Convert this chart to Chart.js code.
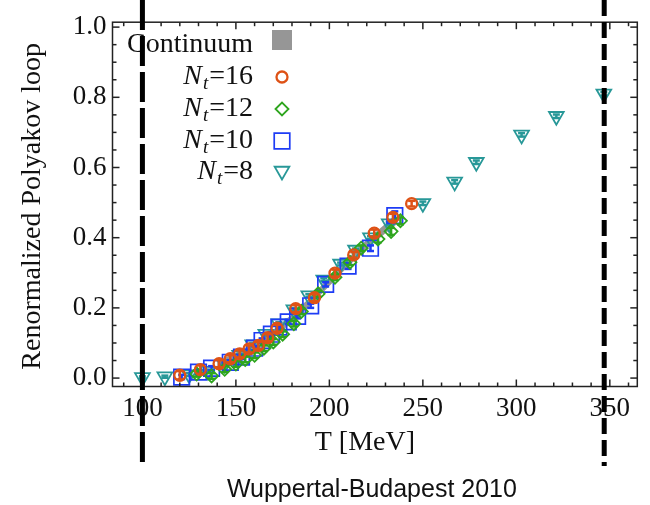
<!DOCTYPE html>
<html>
<head>
<meta charset="utf-8">
<script src="https://cdn.jsdelivr.net/npm/chart.js@4"></script>
<style>
  html, body { margin: 0; padding: 0; background: #fff; }
  #wrap { width: 650px; height: 505px; }
</style>
</head>
<body>
<div id="wrap"><canvas id="polyakovChart"></canvas></div>
<script>
// values: T in MeV, renormalized Polyakov loop
const nt16T = [120, 131, 141, 147, 152, 157, 162, 167, 172, 182, 192, 203, 213, 224, 234, 244];
const nt16L = [0.008, 0.024, 0.041, 0.055, 0.069, 0.083, 0.093, 0.115, 0.142, 0.198, 0.229, 0.299, 0.351, 0.413, 0.458, 0.497];
const nt16Err = [0.012, 0.012, 0.010, 0.010, 0.010, 0.010, 0.010, 0.010, 0.010, 0.010, 0.010, 0.010, 0.008, 0.010, 0.010, 0.008];

const nt12T = [129, 137, 144, 150, 155, 160, 165, 170, 175, 181, 185, 194, 203, 211, 217, 226, 233, 238];
const nt12L = [0.012, 0.006, 0.025, 0.040, 0.053, 0.065, 0.085, 0.103, 0.125, 0.155, 0.190, 0.240, 0.287, 0.330, 0.370, 0.396, 0.418, 0.448];
const nt12Err = [0.008, 0.008, 0.008, 0.008, 0.008, 0.008, 0.008, 0.008, 0.008, 0.008, 0.008, 0.008, 0.008, 0.008, 0.008, 0.010, 0.010, 0.010];

const nt10T = [121, 130, 137, 147, 153, 160, 164, 169, 173, 178, 183, 190, 198, 210, 222, 235];
const nt10L = [0.003, 0.017, 0.028, 0.045, 0.060, 0.085, 0.107, 0.125, 0.145, 0.160, 0.176, 0.206, 0.267, 0.319, 0.370, 0.463];
const nt10Err = [0.006, 0.006, 0.006, 0.006, 0.006, 0.006, 0.006, 0.006, 0.006, 0.006, 0.006, 0.006, 0.006, 0.008, 0.008, 0.012];

const nt8T = [100, 112, 125, 135, 144, 152, 159, 166, 173, 181, 189, 197, 206, 214, 222, 232, 250, 267, 278.6, 302.8, 321.4, 346.8];
const nt8L = [0.002, 0.004, 0.010, 0.020, 0.040, 0.065, 0.095, 0.125, 0.155, 0.195, 0.235, 0.280, 0.325, 0.365, 0.400, 0.440, 0.498, 0.559, 0.615, 0.693, 0.746, 0.810];
const nt8Err = [0.003, 0.003, 0.004, 0.004, 0.004, 0.004, 0.004, 0.004, 0.004, 0.004, 0.004, 0.004, 0.004, 0.004, 0.004, 0.004, 0.005, 0.005, 0.005, 0.005, 0.005, 0.005];

const contT = [140, 150, 160, 170, 180, 190, 200, 210, 220, 230, 236];
const contLow = [0.028, 0.052, 0.080, 0.115, 0.158, 0.208, 0.262, 0.318, 0.368, 0.413, 0.438];
const contHigh = [0.048, 0.072, 0.102, 0.138, 0.182, 0.232, 0.288, 0.342, 0.394, 0.440, 0.466];

const xTickLabels = [100, 150, 200, 250, 300, 350];
const yTickLabels = [0.0, 0.2, 0.4, 0.6, 0.8, 1.0];
const markerLines = [100, 347];

const legendNames = ['Continuum', '16', '12', '10', '8'];

const ORANGE = 'rgb(222, 82, 22)';
const GREEN = 'rgb(46, 165, 30)';
const BLUE = 'rgb(30, 60, 245)';
const TEAL = 'rgb(40, 152, 152)';
const GREY = 'rgb(150, 150, 150)';

function pts(xs, ys) {
    return xs.map((x, i) => ({ x: x, y: ys[i] }));
}

const serif = '"Liberation Serif", "Times New Roman", serif';

const datasets = [
    { label: 'Nt=16', data: pts(nt16T, nt16L), errors: nt16Err, pointStyle: 'circle', pointRadius: 5.5,
      borderColor: ORANGE, backgroundColor: 'rgba(0,0,0,0)', pointBorderWidth: 2.3, showLine: false },
    { label: 'Nt=12', data: pts(nt12T, nt12L), errors: nt12Err, pointStyle: 'rectRot', pointRadius: 6.5,
      borderColor: GREEN, backgroundColor: 'rgba(0,0,0,0)', pointBorderWidth: 1.8, showLine: false },
    { label: 'Nt=10', data: pts(nt10T, nt10L), errors: nt10Err, pointStyle: 'rect', pointRadius: 11,
      borderColor: BLUE, backgroundColor: 'rgba(0,0,0,0)', pointBorderWidth: 1.7, showLine: false },
    { label: 'Nt=8', data: pts(nt8T, nt8L), errors: nt8Err, pointStyle: 'triangle', pointRotation: 180, pointRadius: 8.5,
      borderColor: TEAL, backgroundColor: 'rgba(0,0,0,0)', pointBorderWidth: 1.8, showLine: false },
    { label: 'cont-low', data: pts(contT, contLow), showLine: true, pointRadius: 0, borderWidth: 0,
      borderColor: GREY, backgroundColor: GREY, fill: false },
    { label: 'cont-high', data: pts(contT, contHigh), showLine: true, pointRadius: 0, borderWidth: 0,
      borderColor: GREY, backgroundColor: GREY, fill: '-1' }
];

function line(ctx, x1, y1, x2, y2) {
    ctx.beginPath();
    ctx.moveTo(x1, y1);
    ctx.lineTo(x2, y2);
    ctx.stroke();
}

// error bars, drawn right after each dataset's markers
const errorBars = {
    id: 'errorBars',
    afterDatasetDraw(chart, args) {
        const ds = chart.data.datasets[args.index];
        if (!ds.errors) return;
        const ctx = chart.ctx;
        const y = chart.scales.y;
        ctx.save();
        ctx.strokeStyle = ds.borderColor;
        ctx.lineWidth = 2.5;
        args.meta.data.forEach((pt, i) => {
            const v = ds.data[i].y;
            const e = ds.errors[i];
            const top = y.getPixelForValue(v + e);
            const bot = y.getPixelForValue(v - e);
            line(ctx, pt.x, top, pt.x, bot);
            line(ctx, pt.x - 3.5, top, pt.x + 3.5, top);
            line(ctx, pt.x - 3.5, bot, pt.x + 3.5, bot);
        });
        ctx.restore();
    }
};

function drawNt(ctx, sub, right, base) {
    ctx.textAlign = 'right';
    ctx.font = '28px ' + serif;
    ctx.fillText('=' + sub, right, base);
    let x = right - ctx.measureText('=' + sub).width;
    ctx.font = 'italic 19px ' + serif;
    ctx.fillText('t', x - 1, base + 5);
    x -= ctx.measureText('t').width + 2;
    ctx.font = 'italic 28px ' + serif;
    ctx.fillText('N', x, base);
}

const decorations = {
    id: 'decorations',
    afterDraw(chart) {
        const ctx = chart.ctx;
        const a = chart.chartArea;
        const x = chart.scales.x;
        const y = chart.scales.y;
        ctx.save();

        // frame with inward ticks
        ctx.strokeStyle = '#222';
        ctx.lineWidth = 1.5;
        ctx.strokeRect(a.left, a.top, a.right - a.left, a.bottom - a.top);
        x.ticks.forEach(t => {
            const px = x.getPixelForValue(t.value);
            const len = xTickLabels.includes(t.value) ? 7 : 4;
            line(ctx, px, a.bottom, px, a.bottom - len);
            line(ctx, px, a.top, px, a.top + len);
        });
        y.ticks.forEach(t => {
            const py = y.getPixelForValue(t.value);
            const major = yTickLabels.some(v => Math.abs(v - t.value) < 1e-6);
            const len = major ? 7 : 4;
            line(ctx, a.left, py, a.left + len, py);
            line(ctx, a.right, py, a.right - len, py);
        });

        // legend
        ctx.fillStyle = '#111';
        ctx.textBaseline = 'alphabetic';
        ctx.textAlign = 'right';
        ctx.font = '28px ' + serif;
        ctx.fillText(legendNames[0], 253, 52);
        const rows = [
            { sub: legendNames[1], base: 84, my: 77, ds: datasets[0] },
            { sub: legendNames[2], base: 116, my: 109, ds: datasets[1] },
            { sub: legendNames[3], base: 148, my: 141, ds: datasets[2] },
            { sub: legendNames[4], base: 179, my: 171, ds: datasets[3] }
        ];
        rows.forEach(r => {
            ctx.fillStyle = '#111';
            drawNt(ctx, r.sub, 253, r.base);
        });
        ctx.fillStyle = GREY;
        ctx.fillRect(272, 30, 20, 20);
        rows.forEach(r => {
            ctx.strokeStyle = r.ds.borderColor;
            ctx.fillStyle = 'rgba(0,0,0,0)';
            ctx.lineWidth = r.ds.pointBorderWidth;
            Chart.helpers.drawPoint(ctx, {
                pointStyle: r.ds.pointStyle,
                radius: r.ds.pointStyle === 'rect' ? 11 : r.ds.pointRadius,
                rotation: r.ds.pointRotation || 0,
                borderWidth: r.ds.pointBorderWidth
            }, 282, r.my);
        });

        // axis titles and caption
        ctx.fillStyle = '#111';
        ctx.textAlign = 'center';
        ctx.font = '28px ' + serif;
        ctx.fillText('T [MeV]', (a.left + a.right) / 2 - 10, 450);
        ctx.save();
        ctx.translate(40, (a.top + a.bottom) / 2 + 2);
        ctx.rotate(-Math.PI / 2);
        ctx.fillText('Renormalized Polyakov loop', 0, 0);
        ctx.restore();
        ctx.font = '25px "Liberation Sans", Arial, sans-serif';
        ctx.fillText('Wuppertal-Budapest 2010', (a.left + a.right) / 2 - 3, 497);

        // dashed verticals
        ctx.strokeStyle = '#000';
        ctx.lineWidth = 5;
        ctx.setLineDash([30, 6]);
        line(ctx, x.getPixelForValue(markerLines[0]), 0, x.getPixelForValue(markerLines[0]), 466);
        ctx.setLineDash([16, 6]);
        line(ctx, x.getPixelForValue(markerLines[1]), 0, x.getPixelForValue(markerLines[1]), 466);
        ctx.restore();
    }
};

new Chart(document.getElementById('polyakovChart'), {
    type: 'scatter',
    data: { datasets: datasets },
    plugins: [errorBars, decorations],
    options: {
        responsive: true,
        maintainAspectRatio: false,
        animation: false,
        devicePixelRatio: 1,
        layout: { padding: { top: 15, right: 8, left: 0, bottom: 0 } },
        plugins: {
            legend: { display: false },
            tooltip: { enabled: false }
        },
        scales: {
            x: {
                type: 'linear',
                min: 84,
                max: 364.7,
                afterFit: s => { s.height = 118.5; },
                grid: { display: false, drawTicks: false },
                border: { display: false },
                ticks: {
                    stepSize: 10,
                    includeBounds: false,
                    autoSkip: false,
                    maxRotation: 0,
                    minRotation: 0,
                    padding: 6,
                    color: '#111',
                    font: { family: serif, size: 27 },
                    callback: v => xTickLabels.includes(v) ? String(v) : ''
                }
            },
            y: {
                type: 'linear',
                min: -0.024,
                max: 1.014,
                afterFit: s => { s.width = 112.5; },
                grid: { display: false, drawTicks: false },
                border: { display: false },
                ticks: {
                    stepSize: 0.05,
                    includeBounds: false,
                    autoSkip: false,
                    padding: 6,
                    color: '#111',
                    font: { family: serif, size: 27 },
                    callback: v => yTickLabels.some(t => Math.abs(t - v) < 1e-6) ? v.toFixed(1) : ''
                }
            }
        }
    }
});
</script>
</body>
</html>
